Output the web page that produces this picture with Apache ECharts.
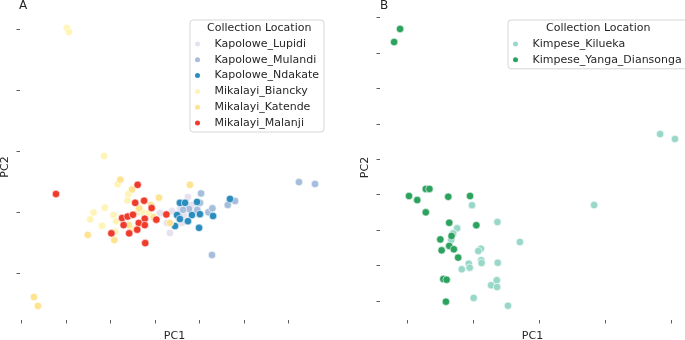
<!DOCTYPE html>
<html>
<head>
<meta charset="utf-8">
<script src="https://cdn.jsdelivr.net/npm/echarts@6/dist/echarts.min.js"></script>
<style>
  html, body { margin: 0; padding: 0; background: #fff; }
  #chart { width: 685px; height: 340px; }
</style>
</head>
<body>
<div id="chart"></div>
<script>
// panel A points [PC1, PC2]
const kapoloweLupidi = [[0.22, -0.03], [0.54, -0.36], [0.67, -0.69], [0.76, 0.03], [1.12, 0.10], [1.30, -0.10], [1.48, 0.49], [1.66, 0.23], [1.21, -0.36]]
const kapoloweMulandi = [[2.07, 0.61], [1.53, 0.10], [1.90, 0.07], [2.40, -0.01], [2.58, 0.12], [3.27, 0.23], [3.60, 0.36], [1.26, 0.07], [2.02, 0.30], [1.08, -0.16], [6.47, 0.98], [7.19, 0.92], [2.56, -1.41]]
const kapoloweNdakate = [[1.12, 0.30], [1.35, 0.30], [1.89, 0.33], [3.37, 0.43], [0.99, -0.10], [1.66, -0.10], [2.02, -0.07], [2.61, -0.13], [1.12, -0.23], [1.48, -0.30], [0.90, -0.46], [1.98, -0.52]]
const mikalayiBiancky = [[-3.96, 6.03], [-3.87, 5.90], [-2.29, 1.84], [-1.68, 0.91], [-1.20, 0.59], [-1.24, 0.38], [-2.26, 0.14], [-2.76, -0.02], [-2.91, -0.24], [-2.38, -0.45], [-1.86, -0.10], [-1.74, -0.30], [-1.78, -0.65], [-0.58, -0.01], [-0.28, -0.02], [-0.81, -0.02], [-1.03, -0.53]]
const mikalayiKatende = [[-5.44, -2.79], [-5.26, -3.08], [0.18, 0.47], [1.57, 0.89], [0.67, -0.36], [-0.18, 0.23], [-1.56, 1.06], [-1.03, 0.74], [-3.02, -0.75], [-1.83, -0.92], [-0.71, 0.12], [-0.06, -0.17], [-1.18, -0.43]]
const mikalayiMalanji = [[-4.45, 0.59], [-0.78, 0.89], [-0.89, 0.30], [-0.49, 0.37], [-0.15, 0.13], [-1.48, -0.20], [-1.23, -0.15], [-0.99, -0.09], [-0.46, -0.22], [-0.73, -0.36], [0.06, -0.25], [0.51, -0.08], [-1.41, -0.43], [-1.96, -0.70], [-1.16, -0.70], [-0.80, -0.58], [-0.46, -0.43], [-0.44, -1.02]]

// panel B points [PC1, PC2]
const kimpeseKilueka = [[-0.03, 1.40], [0.74, 0.45], [-0.48, 0.10], [-0.60, -0.19], [-0.66, -0.56], [0.24, -1.06], [0.16, -1.19], [0.25, -1.71], [0.26, -1.86], [0.75, -1.85], [-0.13, -1.90], [-0.10, -2.13], [-0.34, -2.22], [0.72, -2.84], [0.55, -3.12], [0.73, -3.22], [0.02, -3.84], [1.06, -4.28], [3.67, 1.41], [1.42, -0.68], [5.67, 5.42], [6.12, 5.14]]
const kimpeseYangaDiansonga = [[-2.21, 11.36], [-2.39, 10.62], [-1.43, 2.32], [-1.32, 2.32], [-1.94, 1.92], [-1.69, 1.69], [-0.75, 1.88], [-0.09, 1.92], [-1.43, 1.00], [-0.72, 0.41], [0.10, 0.27], [-0.65, -0.34], [-0.99, -0.53], [-0.72, -0.90], [-0.58, -1.09], [-0.95, -1.15], [-0.45, -1.56], [-0.90, -2.77], [-0.80, -2.81], [-0.82, -4.05]]

// tick positions (no tick labels in the figure)
const ticksAx = [-6, -4, -2, 0, 2, 4, 6]
const ticksAy = [-2, 0, 2, 4, 6]
const ticksBx = [-2, 0, 2, 4, 6]
const ticksBy = [-4, -2, 0, 2, 4, 6, 8, 10, 12]

const font = 'DejaVu Sans'
const textColor = '#262626'

function valueAxis(gridIndex, min, max, ticks, name, isY) {
    return {
        type: 'value',
        gridIndex: gridIndex,
        min: min,
        max: max,
        name: name,
        nameLocation: 'middle',
        nameGap: isY ? 9 : 11,
        nameTextStyle: { fontFamily: font, fontSize: 11, color: textColor },
        axisLine: { show: false, onZero: false },
        splitLine: { show: false },
        axisLabel: { show: false },
        axisTick: {
            show: true,
            customValues: ticks,
            length: 3.5,
            lineStyle: { color: '#333', width: 0.8 }
        }
    }
}

function scatter(name, data, color, axisIndex) {
    return {
        name: name,
        type: 'scatter',
        xAxisIndex: axisIndex,
        yAxisIndex: axisIndex,
        data: data,
        symbolSize: 7.5,
        itemStyle: { color: color, borderColor: '#fff', borderWidth: 0.6, opacity: 1 }
    }
}

function legendBox(left, top, names) {
    return {
        orient: 'vertical',
        left: left,
        top: top,
        data: names,
        icon: 'circle',
        itemWidth: 24,
        itemHeight: 7,
        itemGap: 3.8,
        padding: [18, 5, 3, 3],
        borderColor: '#d6d6d6',
        borderWidth: 1,
        borderRadius: 3,
        backgroundColor: '#fff',
        selectedMode: false,
        textStyle: { fontFamily: font, fontSize: 11, color: textColor, lineHeight: 12 }
    }
}

let option = {
    animation: false,
    backgroundColor: '#fff',
    title: [
        { text: 'A', left: 19, top: 0, padding: 0, textStyle: { fontFamily: font, fontSize: 12, fontWeight: 'normal', color: textColor } },
        { text: 'B', left: 380, top: 0, padding: 0, textStyle: { fontFamily: font, fontSize: 12, fontWeight: 'normal', color: textColor } }
    ],
    grid: [
        { left: 20, top: 14, width: 309, height: 306, outerBoundsMode: 'none' },
        { left: 380, top: 15, width: 305, height: 305, outerBoundsMode: 'none' }
    ],
    xAxis: [
        valueAxis(0, -6.067, 7.82, ticksAx, 'PC1', false),
        valueAxis(1, -2.818, 6.424, ticksBx, 'PC1', false)
    ],
    yAxis: [
        valueAxis(0, -3.541, 6.492, ticksAy, 'PC2', true),
        valueAxis(1, -5.085, 12.147, ticksBy, 'PC2', true)
    ],
    legend: [
        legendBox(190, 20, ['Kapolowe_Lupidi', 'Kapolowe_Mulandi', 'Kapolowe_Ndakate', 'Mikalayi_Biancky', 'Mikalayi_Katende', 'Mikalayi_Malanji']),
        legendBox(508, 20, ['Kimpese_Kilueka', 'Kimpese_Yanga_Diansonga'])
    ],
    graphic: [
        { type: 'text', left: 207, top: 23, z: 100, style: { text: 'Collection Location', fontFamily: font, fontSize: 11, fill: textColor } },
        { type: 'text', left: 546, top: 23, z: 100, style: { text: 'Collection Location', fontFamily: font, fontSize: 11, fill: textColor } }
    ],
    series: [
        scatter('Kapolowe_Lupidi', kapoloweLupidi, '#e7e1ef', 0),
        scatter('Kapolowe_Mulandi', kapoloweMulandi, '#a6bddb', 0),
        scatter('Kapolowe_Ndakate', kapoloweNdakate, '#2b8cbe', 0),
        scatter('Mikalayi_Biancky', mikalayiBiancky, '#fff4b8', 0),
        scatter('Mikalayi_Katende', mikalayiKatende, '#fee391', 0),
        scatter('Mikalayi_Malanji', mikalayiMalanji, '#ef3b2c', 0),
        scatter('Kimpese_Kilueka', kimpeseKilueka, '#99d8c9', 1),
        scatter('Kimpese_Yanga_Diansonga', kimpeseYangaDiansonga, '#2ca25f', 1)
    ]
}

var myChart = echarts.init(document.getElementById('chart'))
myChart.setOption(option)
window.addEventListener('resize', function() {
    myChart.resize()
})
</script>
</body>
</html>
